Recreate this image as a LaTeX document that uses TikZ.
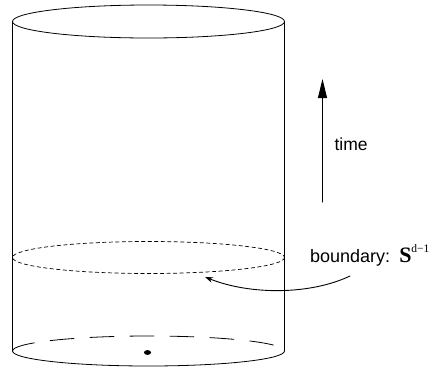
\documentclass[tikz,border=0pt]{standalone}
\usepackage{fontspec}
\setmainfont{Liberation Sans}
\newfontfamily\timesfont{Liberation Serif}
\usetikzlibrary{arrows.meta,calc}

\begin{document}
\begin{tikzpicture}[x=1pt,y=-1pt,line cap=round,line join=round]
  \useasboundingbox (0,0) rectangle (437,368);
  \coordinate (T) at (148.5,21.5);
  \coordinate (M) at (148.5,257.5);
  \coordinate (B) at (148.5,351);
  \coordinate (TL) at (12.5,21.5);
  \coordinate (TR) at (284.5,21.5);
  \coordinate (BL) at (12.5,351);
  \coordinate (BR) at (284.5,351);
  \coordinate (tfoot) at (322.5,202);
  \coordinate (thead) at (322.5,79);
  \coordinate (ring) at (205,277);
  \draw[line width=0.8pt] (T) ellipse [x radius=136, y radius=16.5];
  \draw[line width=0.8pt] (TL)--(BL);
  \draw[line width=0.8pt] (TR)--(BR);
  \draw[line width=0.7pt,dash pattern=on 3.5pt off 3pt] (M) ellipse [x radius=136, y radius=16];
  \draw[line width=0.8pt] (BR) arc [start angle=0, end angle=180, x radius=136, y radius=15];
  \draw[line width=0.8pt,dash pattern=on 24pt off 16pt] (BL) arc [start angle=180, end angle=360, x radius=136, y radius=15];
  \fill ($(B)+(-1,1.5)$) ellipse [x radius=3.6, y radius=2.4];
  \draw[line width=1pt,-{Triangle[length=19pt,width=9pt]}] (tfoot)--(thead);
  \node[font=\fontsize{17.5}{20}\selectfont,anchor=base west] (time) at (331,150) {time};
  \node[font=\fontsize{18}{21}\selectfont,anchor=base west,inner sep=0pt] (bdry) at (310,262)
    {boundary:\hspace{9pt}{\timesfont\bfseries\fontsize{22}{24}\selectfont S}\raisebox{10pt}{\timesfont\fontsize{11.5}{13}\selectfont d−1}};
  \coordinate (bstart) at ([xshift=40pt,yshift=-14pt]bdry.base west);
  \draw[line width=0.9pt,-{Stealth[length=8pt,width=5.5pt]}] (bstart) .. controls (310,295) and (250,295) .. (ring);
\end{tikzpicture}
\end{document}
